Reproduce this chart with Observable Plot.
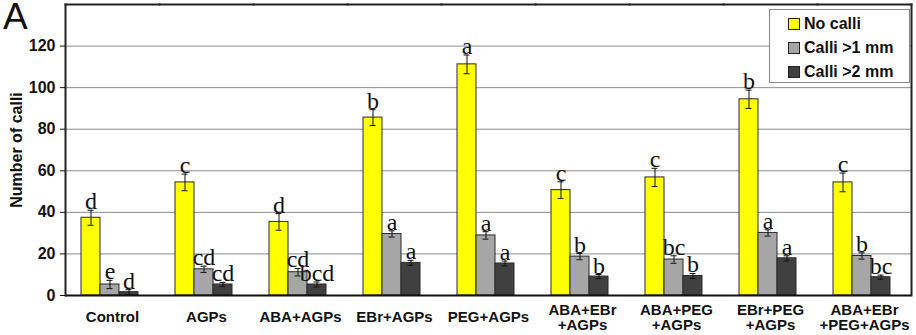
<!DOCTYPE html>
<html>
<head>
<meta charset="utf-8">
<script src="https://cdn.jsdelivr.net/npm/d3@7"></script>
<script src="https://cdn.jsdelivr.net/npm/@observablehq/plot@0.6"></script>
<style>
  html, body { margin: 0; padding: 0; background: #fff; }
  #wrap { position: relative; width: 916px; height: 335px; font-family: "Liberation Sans", Arial, sans-serif; }
  #panel { position: absolute; left: 3px; top: -4px; font-size: 37px; font-weight: normal; color: #111; }
  #legend { position: absolute; left: 769px; top: 9px; width: 141px; height: 74px; box-sizing: border-box;
            border: 1px solid #888; background: #fff; font-size: 16px; font-weight: bold; color: #111; padding: 2px 0 0 18px; }
  #legend .row { display: flex; align-items: center; height: 24px; }
  #legend .sw { width: 10px; height: 10px; border: 1px solid #222; margin-right: 4px; }
</style>
</head>
<body>
<div id="wrap">
  <div id="chart"></div>
  <div id="panel">A</div>
  <div id="legend"></div>
</div>
<script>
const categories = ["Control", "AGPs", "ABA+AGPs", "EBr+AGPs", "PEG+AGPs", "ABA+EBr\n+AGPs", "ABA+PEG\n+AGPs", "EBr+PEG\n+AGPs", "ABA+EBr\n+PEG+AGPs"];
const series = ["No calli", "Calli >1 mm", "Calli >2 mm"];
const colors = ["#ffff00", "#a6a6a6", "#404040"];

const noCalli      = [37.4, 54.4, 35.4, 85.6, 111.2, 50.7, 56.8, 94.4, 54.4];
const noCalliErr   = [3.6, 4.0, 4.0, 3.8, 4.5, 4.0, 4.4, 4.4, 4.5];
const noCalliSig   = ["d", "c", "d", "b", "a", "c", "c", "b", "c"];

const calli1       = [5.3, 12.6, 11.2, 29.6, 28.9, 18.7, 17.3, 30.1, 19.0];
const calli1Err    = [2.0, 1.5, 1.8, 1.5, 1.8, 1.5, 1.8, 1.5, 1.5];
const calli1Sig    = ["e", "cd", "cd", "a", "a", "b", "bc", "a", "b"];

const calli2       = [1.6, 5.3, 5.3, 15.7, 15.4, 9.1, 9.4, 17.9, 8.8];
const calli2Err    = [1.2, 1.0, 1.2, 1.2, 1.2, 1.0, 1.2, 1.2, 1.0];
const calli2Sig    = ["d", "cd", "bcd", "a", "a", "b", "b", "a", "bc"];

const yTicks = [0, 20, 40, 60, 80, 100, 120];

const values = [noCalli, calli1, calli2];
const errs = [noCalliErr, calli1Err, calli2Err];
const sigs = [noCalliSig, calli1Sig, calli2Sig];

const data = [];
categories.forEach((c, i) => {
  series.forEach((s, j) => {
    data.push({cat: c, series: s, value: values[j][i], err: errs[j][i], sig: sigs[j][i]});
  });
});

const chart = Plot.plot({
  width: 916,
  height: 335,
  marginLeft: 62,
  marginRight: 2,
  marginTop: 4,
  marginBottom: 40,
  style: {fontFamily: "'Liberation Sans', Arial, sans-serif", background: "#fff", color: "#111"},
  fx: {domain: categories, padding: 0, label: null, axis: null},
  x: {domain: series, paddingInner: 0, paddingOuter: 0.87, align: 0.43, axis: null},
  y: {domain: [0, 140], label: null},
  color: {domain: series, range: colors},
  marks: [
    Plot.gridY(yTicks.filter(d => d > 0), {stroke: "#8c8c8c", strokeOpacity: 1, strokeWidth: 1}),
    Plot.barY(data, {fx: "cat", x: "series", y: "value", fill: "series", stroke: "#2a2a2a", strokeWidth: 1}),
    Plot.ruleX(data, {fx: "cat", x: "series", y1: d => d.value - d.err, y2: d => d.value + d.err, stroke: "#111", strokeWidth: 1}),
    Plot.tickY(data, {fx: "cat", x: "series", y: d => d.value - d.err, stroke: "#111", insetLeft: 6.5, insetRight: 6.5}),
    Plot.tickY(data, {fx: "cat", x: "series", y: d => d.value + d.err, stroke: "#111", insetLeft: 6.5, insetRight: 6.5}),
    Plot.text(data, {fx: "cat", x: "series", y: d => d.value + d.err, text: "sig", lineAnchor: "bottom", dy: -1,
      fontFamily: "'Liberation Serif', 'Times New Roman', serif", fontSize: 24, fontWeight: "normal", fill: "#111"}),
    Plot.ruleY([0], {stroke: "#111", strokeWidth: 2}),
    Plot.frame({anchor: "top", stroke: "#222", strokeWidth: 2}),
    Plot.frame({anchor: "left", facetAnchor: "left", stroke: "#222", strokeWidth: 2}),
    Plot.frame({anchor: "right", facetAnchor: "right", stroke: "#222", strokeWidth: 2}),
    Plot.axisY({ticks: yTicks, tickSize: 5, tickPadding: 5, fontSize: 16, fontWeight: "bold", label: null}),
    Plot.axisFx({anchor: "bottom", tickSize: 0, tickPadding: 22, lineAnchor: "middle", fontSize: 15, fontWeight: "bold", label: null}),
    Plot.text(["Number of calli"], {frameAnchor: "left", textAnchor: "middle", rotate: -90, dx: -49, fontSize: 16, fontWeight: "bold", facetAnchor: "left", fill: "#111"})
  ]
});
document.getElementById("chart").appendChild(chart);

const legend = document.getElementById("legend");
series.forEach((s, j) => {
  const row = document.createElement("div");
  row.className = "row";
  const sw = document.createElement("span");
  sw.className = "sw";
  sw.style.background = colors[j];
  const t = document.createElement("span");
  t.textContent = s;
  row.appendChild(sw);
  row.appendChild(t);
  legend.appendChild(row);
});
</script>
</body>
</html>
